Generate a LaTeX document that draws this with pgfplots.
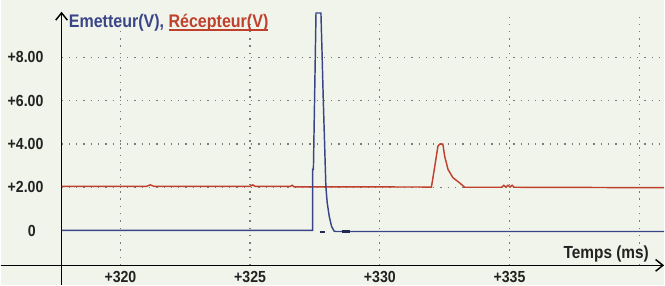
\documentclass[border=0pt]{standalone}
\usepackage{pgfplots}
\pgfplotsset{compat=1.18}
\usepackage{fontspec}
\setmainfont{Liberation Sans}[FakeStretch=0.88]
\usetikzlibrary{arrows.meta}
\definecolor{bgcol}{HTML}{F1F4EA}
\definecolor{emblue}{HTML}{3A4589}
\definecolor{recred}{HTML}{C0402E}
\definecolor{gridgray}{HTML}{7A7A7A}
\definecolor{txt}{HTML}{222222}
\newcommand{\redul}[1]{\setbox0\hbox{#1}\rlap{\rule[-2pt]{\wd0}{0.9pt}}\box0}
\begin{document}
\begin{tikzpicture}
\begin{axis}[
  width=16cm, height=6.88cm, scale only axis,
  xmin=315.385, xmax=340.96, ymin=-2.506, ymax=10.64,
  hide axis, clip=false,
]
\fill[bgcol] (rel axis cs:0,0) rectangle (rel axis cs:1,1);
% grid
\foreach \yy in {2,4,6,8}{
  \edef\tmp{\noexpand\draw[gridgray, line width=0.9pt, dash pattern=on 0.9pt off 4.1pt] (axis cs:317.73,\yy) -- (axis cs:340.96,\yy);}\tmp
}
\foreach \xx in {320,325,330,335,340}{
  \edef\tmp{\noexpand\draw[gridgray, line width=0.9pt, dash pattern=on 0.9pt off 4.1pt] (axis cs:\xx,-1.59) -- (axis cs:\xx,9.86);}\tmp
}
% axes
\draw[black, line width=1pt, -{Straight Barb[length=5pt,width=8pt]}] (axis cs:315.385,-1.59) -- (axis cs:340.96,-1.59);
\draw[black, line width=1pt, -{Straight Barb[length=5pt,width=8pt]}] (axis cs:317.73,-2.506) -- (axis cs:317.73,10.1);
% data
\addplot[recred, line width=1pt] coordinates {
(317.73,2.05) (321.0,2.05) (321.15,2.12) (321.3,2.05) (325.0,2.05) (325.1,2.12) (325.2,2.05)
(326.55,2.05) (326.62,2.1) (326.7,2.03) (331.99,2.02) (332.12,2.98) (332.24,3.9) (332.31,4.0)
(332.43,4.0) (332.5,3.44) (332.63,2.83) (332.82,2.45) (333.08,2.21) (333.27,2.01) (334.7,2.01)
(334.78,2.1) (334.86,2.02) (334.94,2.1) (335.02,2.02) (335.1,2.1) (335.18,2.01) (340.96,1.99)
};
\addplot[emblue, line width=1pt] coordinates {
(317.73,0.02) (327.41,0.02) (327.41,2.83) (327.44,2.83) (327.54,10.04) (327.73,10.04)
(327.77,8.34) (327.82,6.05) (327.87,4.07) (327.92,2.05) (327.97,1.31) (328.05,0.67)
(328.14,0.21) (328.23,0.0) (328.3,-0.03) (340.96,-0.03)
};
\addplot[emblue!60!black, line width=1.3pt] coordinates {(327.69,-0.05) (327.88,-0.05)};
\addplot[emblue!60!black, line width=1.6pt] coordinates {(328.55,-0.03) (328.85,-0.03)};
% labels
\foreach \yy/\lab in {8/+8.00,6/+6.00,4/+4.00,2/+2.00}{
  \edef\tmp{\noexpand\node[anchor=east, inner sep=0pt, text=txt, font=\noexpand\fontsize{11}{13}\noexpand\selectfont\noexpand\bfseries] at (axis cs:317.04,\yy) {\lab};}\tmp
}
\node[inner sep=0pt, text=txt, font=\fontsize{11}{13}\selectfont\bfseries] at (axis cs:316.58,0) {0};
\foreach \xx in {320,325,330,335}{
  \edef\tmp{\noexpand\node[inner sep=0pt, text=txt, font=\noexpand\fontsize{11}{13}\noexpand\selectfont\noexpand\bfseries] at (axis cs:\xx,-2.14) {+\xx};}\tmp
}
\node[inner sep=0pt, text=txt, font=\fontsize{12}{14}\selectfont\bfseries] at (axis cs:338.73,-1.08) {Temps (ms)};
\node[anchor=base west, inner sep=0pt, font=\fontsize{12.5}{14}\selectfont\bfseries] at (axis cs:318.0,9.36)
  {\textcolor{emblue}{Emetteur(V),} \textcolor{recred}{\redul{Récepteur(V)}}};
\end{axis}
\end{tikzpicture}
\end{document}
